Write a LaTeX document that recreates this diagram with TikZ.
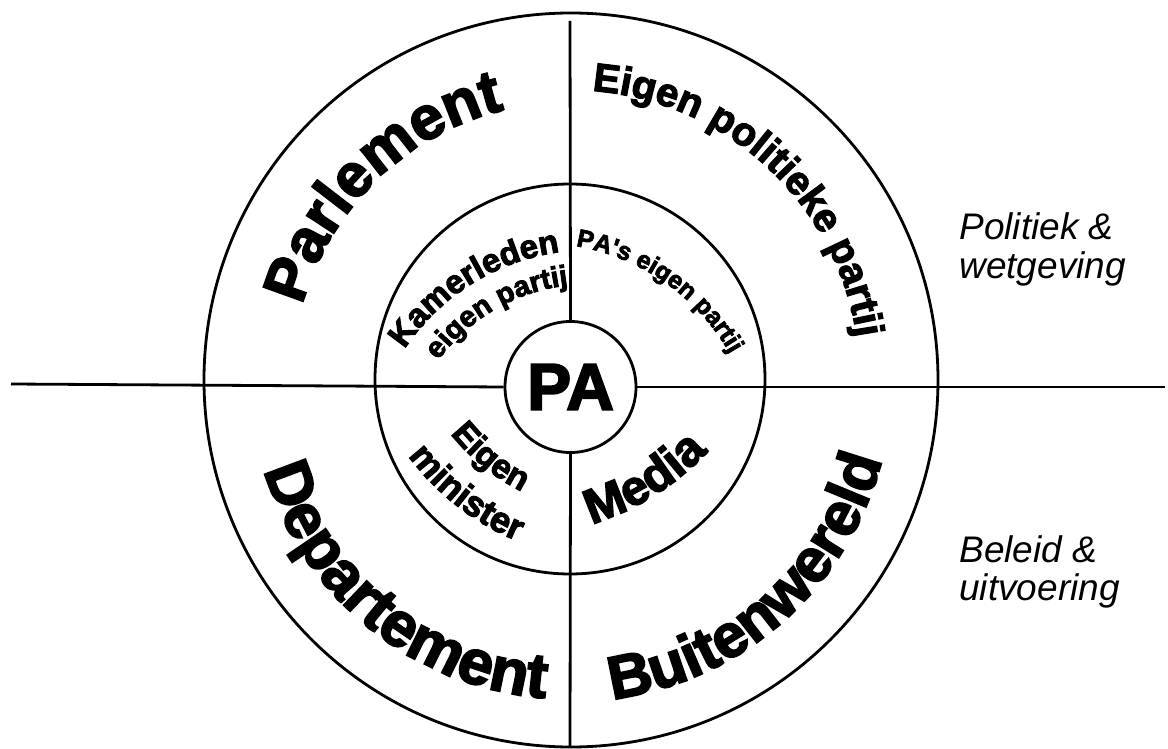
\documentclass[tikz,border=0pt]{standalone}
\usepackage{fontspec}
\setmainfont{Liberation Sans}
\newfontface\heavy{Liberation Sans Bold}[FakeBold=3]
\usetikzlibrary{decorations.text}
\newcommand{\fbig}{\fontsize{61}{72}\selectfont\heavy}
\newcommand{\fdep}{\fontsize{63}{72}\selectfont\heavy}
\newcommand{\fmid}{\fontsize{40}{48}\selectfont\heavy}
\newcommand{\fkam}{\fontsize{33}{38}\selectfont\heavy}
\newcommand{\feig}{\fontsize{29}{35}\selectfont\heavy}
\newcommand{\fpas}{\fontsize{25}{30}\selectfont\heavy}
\newcommand{\fmin}{\fontsize{34}{40}\selectfont\heavy}
\newcommand{\fmis}{\fontsize{36}{40}\selectfont\heavy}
\newcommand{\fmed}{\fontsize{49}{55}\selectfont\heavy}
\newcommand{\fpa}{\fontsize{66}{76}\selectfont\heavy}
\newcommand{\flab}{\fontsize{37}{44}\selectfont\itshape}
% #1 centre, #2 radius, #3 start angle, #4 end angle, #5 font, #6 text
\newcommand{\arctext}[6]{%
  \path[shift={#1}, decorate,
        decoration={text along path, text align=center, text={|#5|#6}}]
    (#3:#2) arc[start angle=#3, end angle=#4, radius=#2];}
\begin{document}
\begin{tikzpicture}[x=1pt, y=1pt, line width=2.8pt,
  ring/.style={circle, draw, inner sep=0pt},
  lab/.style={anchor=base west, inner sep=0pt, font=\flab}]
\useasboundingbox (0,0) rectangle (1168,-749);
% circles
\node[ring, minimum size=734pt] (outer) at (571,-380) {};
\node[ring, minimum size=390pt] (inner) at (570,-379) {};
\node[ring, fill=white, minimum size=131pt, font=\fpa] (pa) at (570.5,-387) {PA};
% axes
\coordinate (lend) at (11,-384);
\coordinate (rend) at (1165,-387);
\coordinate (tend) at (570,-21);
\coordinate (bend) at (570,-747);
\draw (lend) -- (pa.west);
\draw (pa.east) -- (rend);
\draw (tend) -- (pa.north);
\draw (pa.south) -- (bend);
% outer ring texts
\arctext{(570,-380)}{278}{209}{59}{\fbig}{Parlement}
\arctext{(570,-380)}{290}{127}{-33}{\fmid}{Eigen politieke partij}
\arctext{(570,-380)}{319}{151}{311}{\fdep}{Departement}
\arctext{(570,-380)}{322}{231.6}{391.6}{\fbig}{Buitenwereld}
% inner ring texts
\arctext{(590,-473)}{223}{192}{52}{\fkam}{Kamerleden}
\arctext{(590,-473)}{189}{190}{50}{\feig}{eigen partij}
\arctext{(539,-463)}{220}{125}{-15}{\fpas}{PA's eigen partij}
\arctext{(615.8,-302.6)}{211}{181}{281}{\fmin}{Eigen}
\arctext{(615.8,-302.6)}{258}{182}{282}{\fmis}{minister}
\arctext{(512.5,-268)}{268}{252}{352}{\fmed}{Media}
% side labels
\node[lab] (pol1) at (958,-240) {Politiek \&};
\node[lab] (pol2) at (958,-278) {wetgeving};
\node[lab] (bel1) at (958,-562) {Beleid \&};
\node[lab] (bel2) at (958,-600) {uitvoering};
\end{tikzpicture}
\end{document}
